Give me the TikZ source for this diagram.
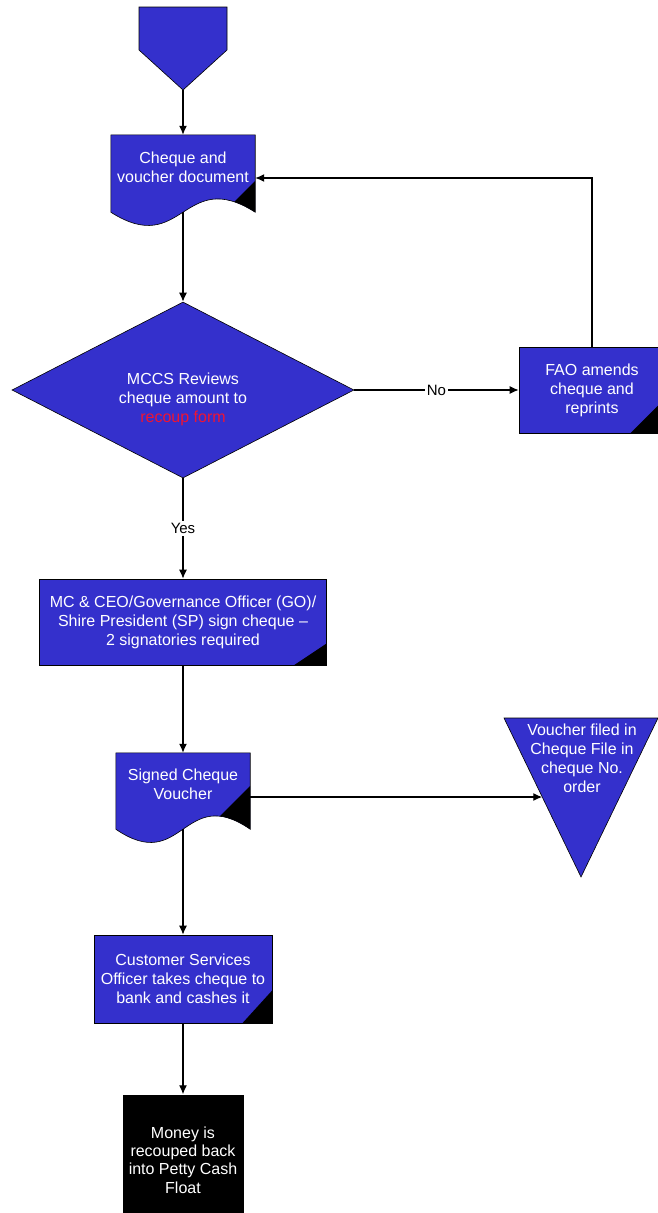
\documentclass[tikz,border=0pt]{standalone}
\usepackage{fontspec}
\setmainfont{Liberation Sans}
\usetikzlibrary{arrows.meta,shapes.geometric,calc}
\definecolor{flowblue}{RGB}{52,48,204}
\definecolor{recoupred}{RGB}{240,20,50}

% document symbol with a wavy lower edge and a dark lower-right corner
% #1: name of the bounding rectangle node, #2: depth below the top where the dark corner starts
\newcommand\docshape[2]{%
  \path[fill=flowblue] (#1.north west) -- (#1.north east) -- (#1.south east)
    .. controls ($(#1.south)+(0,-46)$) and ($(#1.south)+(0,46)$) .. (#1.south west) -- cycle;
  \begin{scope}
    \clip (#1.north west) -- (#1.north east) -- (#1.south east)
      .. controls ($(#1.south)+(0,-46)$) and ($(#1.south)+(0,46)$) .. (#1.south west) -- cycle;
    \fill[black] ($(#1.north east)+(1,#2)$) -- ++(-80,80) -- ++(82,0) -- cycle;
  \end{scope}
  \draw[line width=0.6pt] (#1.north west) -- (#1.north east) -- (#1.south east)
    .. controls ($(#1.south)+(0,-46)$) and ($(#1.south)+(0,46)$) .. (#1.south west) -- cycle;
}

\begin{document}
\begin{tikzpicture}[x=1pt,y=-1pt,
  font=\fontsize{16}{19}\selectfont,
  flowfill/.style={fill=flowblue, draw=black, line width=0.6pt},
  procbox/.style={flowfill, rectangle, inner sep=0pt, text=white, align=center},
  shapebox/.style={rectangle, inner sep=0pt, draw=none},
  shapetext/.style={text=white, align=center, inner sep=0pt},
  flow/.style={line width=1.3pt, -{Latex[length=9pt,width=8pt]}},
  branch/.style={fill=white, text=black, inner sep=2pt, font=\fontsize{15}{18}\selectfont}
]
\fill[white] (0,0) rectangle (658,1213);
\useasboundingbox (0,0) rectangle (658,1213);

% off-page start connector
\path[flowfill] (139,7) -- (227,7) -- (227,50) -- (183,90) -- (139,50) -- cycle;
\coordinate (start) at (183,90);

% cheque and voucher document
\node[shapebox, minimum width=144pt, minimum height=77pt] (doc1) at (183,173.5) {};
\docshape{doc1}{45}
\node[shapetext] (doc1text) at (183,167) {Cheque and\\voucher document};

% review decision
\node[diamond, flowfill, minimum width=342pt, minimum height=176pt, inner sep=0pt] (review) at (183,390) {};
\node[shapetext] (reviewtext) at (183,399) {MCCS Reviews\\cheque amount to\\\textcolor{recoupred}{recoup form}};

% amendment step
\node[procbox, minimum width=146pt, minimum height=86pt] (fao) at (592,390) {FAO amends\\cheque and\\reprints};
\fill[black] ($(fao.south east)+(-35,0)$) -- (fao.south east) -- ($(fao.south east)+(0,-35)$) -- cycle;

% signing step
\node[procbox, minimum width=287pt, minimum height=86pt] (sign) at (183,622)
  {MC \& CEO/Governance Officer (GO)/\\Shire President (SP) sign cheque --\\2 signatories required};
\fill[black] ($(sign.south east)+(-33,0)$) -- (sign.south east) -- ($(sign.south east)+(0,-22)$) -- cycle;

% signed voucher document
\node[shapebox, minimum width=134pt, minimum height=76pt] (doc2) at (183,791) {};
\docshape{doc2}{32}
\node[shapetext] (doc2text) at (183,784) {Signed Cheque\\Voucher};

% filing (merge symbol)
\coordinate (mergeNW) at (504,718);
\coordinate (mergeNE) at (658,718);
\coordinate (mergeS) at (581,877);
\path[flowfill] (mergeNW) -- (mergeNE) -- (mergeS) -- cycle;
\node[shapetext] (mergetext) at (582,758) {Voucher filed in\\Cheque File in\\cheque No.\\order};
\coordinate (mergein) at ($(mergeNW)!0.497!(mergeS)$);

% banking step
\node[procbox, minimum width=178pt, minimum height=88pt] (cust) at (183,979)
  {Customer Services\\Officer takes cheque to\\bank and cashes it};
\fill[black] ($(cust.south east)+(-30,0)$) -- (cust.south east) -- ($(cust.south east)+(0,-33)$) -- cycle;

% end result
\node[fill=black, text=white, align=center, inner sep=0pt, minimum width=121pt, minimum height=131pt,
  font=\fontsize{16}{18.3}\selectfont] (money) at (183,1160)
  {Money is\\recouped back\\into Petty Cash\\Float};

% connectors
\draw[flow] (start) -- (doc1.north);
\draw[flow] (doc1.south) -- (review.north);
\draw[flow] (review.east) -- node[branch] {No} (fao.west);
\draw[flow] (fao.north) |- ($(doc1.east)+(0,4.5)$);
\draw[flow] (review.south) -- node[branch] {Yes} (sign.north);
\draw[flow] (sign.south) -- (doc2.north);
\draw[flow] (doc2.east |- mergein) -- (mergein);
\draw[flow] (doc2.south) -- (cust.north);
\draw[flow] (cust.south) -- (money.north);
\end{tikzpicture}
\end{document}
